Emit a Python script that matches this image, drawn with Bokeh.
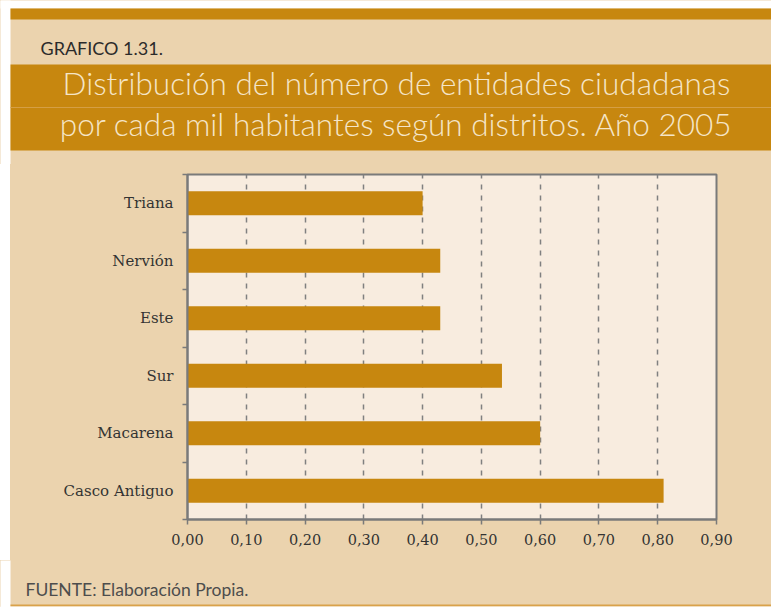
from bokeh.plotting import figure
from bokeh.models import Range1d, FixedTicker, ColumnDataSource, Spacer
from bokeh.layouts import column, row
from bokeh.core.properties import value
from bokeh.embed import file_html
from bokeh.resources import INLINE

# ---- data ----
districts = ["Casco Antiguo", "Macarena", "Sur", "Este", "Nervión", "Triana"]
entities_per_1000 = [0.81, 0.60, 0.535, 0.43, 0.43, 0.40]
x_ticks = [0.0, 0.1, 0.2, 0.3, 0.4, 0.5, 0.6, 0.7, 0.8, 0.9]
x_tick_labels = ["0,00", "0,10", "0,20", "0,30", "0,40", "0,50", "0,60", "0,70", "0,80", "0,90"]
chart_number = "GRAFICO 1.31."
title_lines = ["Distribución del número de entidades ciudadanas",
               "por cada mil habitantes según distritos. Año 2005"]
source_note = "FUENTE: Elaboración Propia."

# ---- styles ----
TAN = "#EBD3AE"
ORANGE = "#C7870F"
PLOT_BG = "#F8ECDF"
GREY = "#7a7a7a"
W = 771
LABEL_FONT = "DejaVu Serif"
GILL = "Lato Light, Lato"


def deco_fig(h):
    f = figure(width=W, height=h, x_range=Range1d(0, W), y_range=Range1d(h, 0),
               x_axis_location=None, y_axis_location=None, min_border=0,
               output_backend="svg", toolbar_location=None,
               background_fill_color=TAN, border_fill_color=TAN,
               outline_line_color=None)
    f.xgrid.visible = False
    f.ygrid.visible = False
    return f


# ---- header ----
HH = 164
top = deco_fig(HH)
top.quad(left=[-5], right=[10], top=[-5], bottom=[HH + 5], fill_color="white", line_color=None)
top.quad(left=[-5], right=[W + 5], top=[-5], bottom=[8], fill_color="white", line_color=None)
top.quad(left=[10], right=[W + 5], top=[8], bottom=[19], fill_color=ORANGE, line_color=None)
top.quad(left=[10], right=[W + 5], top=[64], bottom=[150], fill_color=ORANGE, line_color=None)
top.segment(x0=[10], x1=[W], y0=[107], y1=[107], line_color="#D59F45", line_width=1)
top.text(x=[40], y=[47.5], text=[chart_number], text_font=value("Lato"),
         text_font_size="18px", text_color="#2b2b2b", text_baseline="alphabetic")
top.text(x=[396, 396], y=[82.5, 123.5], text=title_lines, text_font=value(GILL),
         text_font_size="31.5px", text_color="#F5E5C7", text_align="center",
         text_baseline="alphabetic")

# ---- main chart ----
ypos = [i + 0.5 for i in range(len(districts))]
src = ColumnDataSource(dict(y=ypos, v=entities_per_1000, name=districts))

p = figure(width=W - 10, height=396, x_range=Range1d(x_ticks[0], x_ticks[-1]),
           y_range=Range1d(0, len(districts)),
           min_border_left=177, min_border_right=55, min_border_top=10, min_border_bottom=41,
           output_backend="svg", toolbar_location=None,
           background_fill_color=PLOT_BG, border_fill_color=TAN,
           outline_line_color=GREY, outline_line_width=2)

p.hbar(y="y", left=0, right="v", height=0.42, source=src,
       fill_color=ORANGE, line_color=None)

p.xaxis.ticker = FixedTicker(ticks=x_ticks)
p.xaxis.major_label_overrides = {t: lab for t, lab in zip(x_ticks, x_tick_labels)}
p.xaxis.axis_line_color = GREY
p.xaxis.axis_line_width = 2
p.xaxis.major_tick_line_color = GREY
p.xaxis.major_tick_line_width = 1.5
p.xaxis.major_tick_in = 0
p.xaxis.major_tick_out = 5
p.xaxis.minor_tick_line_color = None
p.xaxis.major_label_standoff = 9
p.xaxis.major_label_text_font = LABEL_FONT
p.xaxis.major_label_text_font_size = "14.5px"
p.xaxis.major_label_text_color = "#333333"

p.yaxis.ticker = FixedTicker(ticks=ypos, minor_ticks=list(range(len(districts) + 1)))
p.yaxis.major_label_overrides = {y: n for y, n in zip(ypos, districts)}
p.yaxis.axis_line_color = GREY
p.yaxis.axis_line_width = 2
p.yaxis.major_tick_line_color = None
p.yaxis.major_tick_in = 0
p.yaxis.major_tick_out = 0
p.yaxis.minor_tick_line_color = GREY
p.yaxis.minor_tick_line_width = 1.5
p.yaxis.minor_tick_in = 0
p.yaxis.minor_tick_out = 5
p.yaxis.major_label_standoff = 9
p.yaxis.major_label_text_font = LABEL_FONT
p.yaxis.major_label_text_font_size = "15px"
p.yaxis.major_label_text_color = "#333333"

p.xgrid.grid_line_color = "#808080"
p.xgrid.grid_line_width = 1.5
p.xgrid.grid_line_dash = "5 6"
p.ygrid.grid_line_color = None

# ---- footer ----
FH = 47
foot = deco_fig(FH)
foot.quad(left=[-5], right=[10], top=[-5], bottom=[FH + 5], fill_color="white", line_color=None)
foot.quad(left=[10], right=[W + 5], top=[44], bottom=[46], fill_color="#D9A24A", line_color=None)
foot.quad(left=[-5], right=[W + 5], top=[46], bottom=[FH + 5], fill_color="white", line_color=None)
foot.text(x=[25], y=[29], text=[source_note], text_font=value("Lato"),
          text_font_size="17.5px", text_color="#4d4d4d", text_baseline="alphabetic")

mid = row(Spacer(width=10, height=396, styles={"background-color": "white"}), p,
          styles={"background-color": TAN})
layout = column(column(top), mid, column(foot), styles={"background-color": TAN})
open("out.html", "w").write(file_html(layout, INLINE))
